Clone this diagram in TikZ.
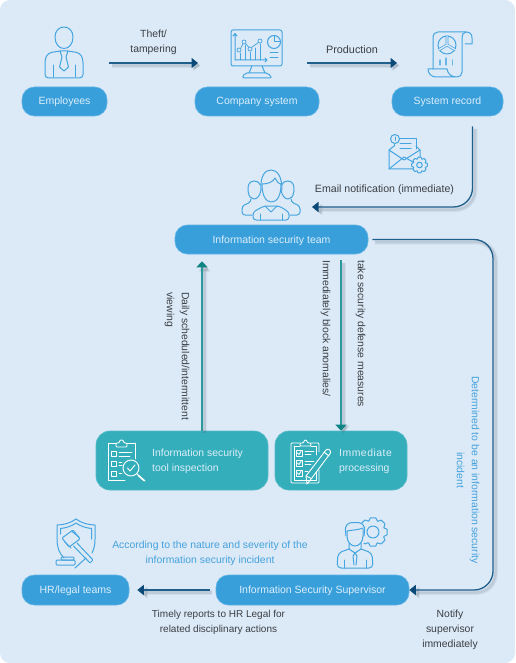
\documentclass[tikz,border=0pt]{standalone}
\usepackage{fontspec}
\setmainfont{Liberation Sans}
\usetikzlibrary{arrows.meta,calc}
\definecolor{bgc}{HTML}{DCE9F6}
\definecolor{pillc}{HTML}{389FDB}
\definecolor{pilledge}{HTML}{5DB2E4}
\definecolor{tealc}{HTML}{35AEBB}
\definecolor{tealedge}{HTML}{55BCC7}
\definecolor{pilltxt}{HTML}{DCEEFA}
\definecolor{darktxt}{HTML}{3A3F45}
\definecolor{bluetxt}{HTML}{45A2DD}
\definecolor{iconc}{HTML}{45A5E0}
\definecolor{navyline}{HTML}{1E5F8C}
\definecolor{navytip}{HTML}{0B4A78}
\definecolor{tealline}{HTML}{2A9A9F}
\definecolor{tealtip}{HTML}{0E8585}
\definecolor{shadowc}{HTML}{3A4A5A}
\newcommand{\mygear}[4]{% cx cy rin rout
  \draw[rounded corners=.5pt] ({#1+#3*cos(-21)},{#2+#3*sin(-21)}) \foreach \a in {0,45,...,315}{
    -- ({#1+#4*cos(\a-11)},{#2+#4*sin(\a-11)}) -- ({#1+#4*cos(\a+11)},{#2+#4*sin(\a+11)}) --
    ({#1+#3*cos(\a+24)},{#2+#3*sin(\a+24)}) } -- cycle;
}
\tikzset{
  pill/.style={draw=pilledge,line width=.6pt,fill=pillc,rounded corners=12.5pt,minimum height=29pt,inner sep=0pt,text=pilltxt,text height=7pt,text depth=-.5pt,font=\fontsize{10.5}{12}\selectfont},
  tealbox/.style={draw=tealedge,line width=.6pt,fill=tealc,rounded corners=14pt,minimum height=59pt,inner sep=0pt},
  hit/.style={inner sep=0pt,minimum size=0pt,outer sep=0pt},
  lbl/.style={inner sep=0pt,text=darktxt,align=center,font=\fontsize{10.4}{15}\selectfont},
  blbl/.style={lbl,text=bluetxt},
  tlbl/.style={inner sep=0pt,text=pilltxt,align=left,anchor=west,font=\fontsize{10.4}{15}\selectfont},
  shdw/.style={
    preaction={draw=shadowc,opacity=.07,line width=5pt,transform canvas={shift={(2.5pt,-2.5pt)}},-{Triangle[length=8pt,width=11pt]}},
    preaction={draw=shadowc,opacity=.12,line width=2.5pt,transform canvas={shift={(2.5pt,-2.5pt)}},-{Triangle[length=7pt,width=10pt]}}},
  arr/.style={shdw,draw=navyline,line width=1.3pt,-{Triangle[length=6.5pt,width=10pt,color=navytip]}},
  tarr/.style={shdw,draw=tealline,line width=1.5pt,-{Triangle[length=6pt,width=11pt,color=tealtip]}},
  ic/.style={draw=iconc,line width=1pt,line join=round,line cap=round},
  wic/.style={draw=white,line width=.9pt,line join=round,line cap=round},
}
\begin{document}
\begin{tikzpicture}[x=1pt,y=-1pt]
\useasboundingbox (0,0) rectangle (515,663);
\fill[white] (0,0) rectangle (515,663);
\fill[bgc,rounded corners=10pt] (0,0) rectangle (515,663);

% pills
\node[pill,minimum width=85pt] (emp) at (64.5,101.5) {Employees};
\node[pill,minimum width=124pt] (comp) at (257,101.5) {Company system};
\node[pill,minimum width=111pt] (rec) at (447.5,101.5) {System record};
\node[pill,minimum width=193pt] (team) at (271.5,239.5) {Information security team};
\node[pill,minimum width=193pt,minimum height=30pt] (sup) at (312.5,590) {Information Security Supervisor};
\node[pill,minimum width=107pt,minimum height=30pt] (hr) at (75.5,590) {HR/legal teams};
\node[tealbox,minimum width=172pt] (tool) at (182,460.5) {};
\node[tealbox,minimum width=132pt] (imm) at (341,460.5) {};

% invisible connection points at the icons
\node[hit] (empicon) at (109,63) {};
\node[hit] (compiconw) at (198,63) {};
\node[hit] (compicone) at (307,63) {};
\node[hit] (recicon) at (397,63) {};
\node[hit] (teamicon) at (312,207) {};
\coordinate (bendA) at (493,239.5);
\coordinate (bendB) at (493,590);

% connectors
\draw[arr] (empicon) -- (compiconw);
\draw[arr] (compicone) -- (recicon);
\draw[arr,rounded corners=19pt] ([xshift=25pt,yshift=-10pt]rec.south) |- (teamicon);
\draw[arr,rounded corners=19pt] ([xshift=4pt]team.east) -- (bendA) -- (bendB) -- (sup.east);
\draw[arr] ([xshift=-6pt]sup.west) -- ([xshift=8pt]hr.east);
\draw[tarr] ([xshift=20pt]tool.north) -- ([xshift=20pt,yshift=-7pt]tool.north |- team.south);
\draw[tarr] ([yshift=-6pt]imm.north |- team.south) -- (imm.north);

% labels
\node[lbl] (l1) at (153.5,42.5) {Theft/\\tampering};
\node[lbl,font=\fontsize{10.8}{15}\selectfont] (l2) at (352,50) {Production};
\node[lbl,font=\fontsize{10.6}{15}\selectfont] (l3) at (384.5,190) {Email notification (immediate)};
\node[lbl,rotate=270,anchor=north west,align=left] (l4) at (189.5,292) {Daily scheduled/intermittent\\viewing};
\node[lbl,rotate=270,anchor=north west,align=left] (l5) at (330.5,260) {Immediately block anomalies/};
\node[lbl,rotate=270,anchor=north west,align=left] (l6) at (365.5,260) {take security defense measures};
\node[blbl,rotate=270] (l7) at (468,470) {Determined to be an information security\\incident};
\node[blbl] (l8) at (210,553.5) {According to the nature and severity of the\\information security incident};
\node[lbl,font=\fontsize{10}{15}\selectfont] (l9) at (218.5,622.5) {Timely reports to HR Legal for\\related disciplinary actions};
\node[lbl] (l10) at (450,630) {Notify\\supervisor\\immediately};
\node[tlbl] (l11) at (152,461.5) {Information security\\tool inspection};
\node[tlbl] (l12) at (339,461.5) {\addfontfeature{LetterSpace=5}Immediate\\\addfontfeature{LetterSpace=0}processing};

% employee icon
\begin{scope}[ic]
\draw (55,37) .. controls (55,31) and (59,27) .. (64,27) .. controls (69,27) and (73,31) .. (73,37) .. controls (73,44) and (69,48.5) .. (64,48.5) .. controls (59,48.5) and (55,44) .. (55,37) -- cycle;
\draw[rounded corners=3.5pt] (60,51) -- (48,53) -- (45,59) -- (45,78) -- (83,78) -- (83,59) -- (80,53) -- (68,51);
\draw (60,51) -- (68,51) -- (66,57) -- (68.5,67) -- (64,71) -- (59.5,67) -- (62,57) -- cycle;
\draw (53,65) -- (53,77) (75,65) -- (75,77);
\end{scope}

% company icon
\begin{scope}[ic]
\draw[rounded corners=2pt] (231,30) rectangle (282,66);
\draw (252,66) -- (249,73) (262,66) -- (265,73);
\draw[rounded corners=2pt] (245,73) -- (268,73) -- (272,78) -- (242,78) -- cycle;
\draw (235,60) -- (235,34) (233,36) -- (235,33.5) -- (237,36);
\draw (235,60) -- (267,60) (265,58) -- (267,60) -- (265,62);
\foreach \x/\t in {240/53,245/45,250/52,255/48,260/44}{\draw[line width=.7pt] (\x,\t) -- (\x,60);}
\foreach \x/\y in {239/50,244/42,250/49,260/41}{\draw[fill=bgc,line width=.7pt] (\x,\y) circle[radius=2];}
\draw[line width=.7pt] (240.5,48.5) -- (243,44) (245.5,43.5) -- (249,47.5) (251.5,47.5) -- (258.5,42.5);
\draw (274,42) circle[radius=6.5];
\draw (274,36) -- (274,42) -- (280,42);
\draw (270,53) -- (278,53) (270,58) -- (278,58);
\end{scope}

% record icon
\begin{scope}[ic]
\draw (433,69) -- (433,38) .. controls (433,34) and (435,32) .. (438,32) -- (466,32) .. controls (470,32) and (472,34) .. (472,38) -- (472,44) -- (465,44);
\draw (466,32) .. controls (463,32) and (462,35) .. (462,38) -- (462,72) .. controls (462,75) and (460,77) .. (457,77) -- (436,77) .. controls (431,77) and (428,73) .. (428,69) -- (447,69) .. controls (448,74) and (451,77) .. (457,77);
\draw (447,45) circle[radius=9];
\draw[double=bgc,double distance=1.4pt,line width=.7pt,line cap=butt] (447,45) -- (447,35.5) (447,45) -- (455.5,50) (447,45) -- (438.5,50);
\draw[line width=1.1pt,draw=iconc!80] (440,60) -- (440,65) (446,58) -- (446,65) (452.5,60) -- (452.5,65);
\end{scope}

% email icon
\begin{scope}[ic]
\draw (394,146) -- (394,138.5) (399,138.5) -- (416,138.5) -- (416,149);
\draw (394,146) -- (389,150) -- (389,169) -- (413,169);
\draw (416,146) -- (420,150) -- (420,157);
\draw (389,150) -- (404,160) -- (420,150);
\draw (389,169) -- (404,157) -- (413,162);
\draw[fill=bgc] (395,139) circle[radius=4.5];
\draw (395,137) -- (395,140.5);
\draw (400,144) -- (411,144) (400,149) -- (411,149);
\draw[fill=bgc,line width=0pt,draw=bgc] (420,165) circle[radius=7];
\mygear{419.5}{165}{6}{8}
\draw (419.5,165) circle[radius=2.8];
\end{scope}

% team icon
\begin{scope}[ic]
\draw (254,181) .. controls (249,181) and (247.5,186) .. (248,191) .. controls (249,197) and (251,199) .. (254,199) .. controls (257,199) and (260,196) .. (261,190);
\draw (288,181) .. controls (293,181) and (294.5,186) .. (294,191) .. controls (293,197) and (291,199) .. (288,199) .. controls (285,199) and (282,196) .. (281,190);
\draw (254,181) .. controls (257,181) and (259,182) .. (260.5,185);
\draw (288,181) .. controls (285,181) and (283,182) .. (281.5,185);
\draw[rounded corners=3pt] (251,199) -- (251,202) -- (242,206) -- (242,215) -- (252,215);
\draw[rounded corners=3pt] (291,199) -- (291,202) -- (300,206) -- (300,215) -- (290,215);
\draw (261,190) .. controls (260,176) and (265,170) .. (271,170) .. controls (277,170) and (282,176) .. (282,190);
\draw (262,184) .. controls (268,184) and (273,182) .. (275,178) .. controls (276,181) and (279,184) .. (281,184);
\draw (262,184) .. controls (262,196) and (266,202) .. (271.5,202) .. controls (277,202) and (281,196) .. (281,184);
\draw[rounded corners=3pt] (253,220) -- (253,212) -- (264,206) -- (279,206) -- (289,212) -- (289,220) -- cycle;
\draw (265,206) -- (271,212) -- (277,206) (271,212) -- (268,209);
\draw (260,214) -- (260,220) (282,214) -- (282,220);
\end{scope}

% tool inspection icon
\begin{scope}[wic]
\draw (116,443) -- (108,443) -- (108,480) -- (125,480) (135,443) -- (135,459) (127,443) -- (135,443);
\draw[rounded corners=1pt] (116,447) -- (116,443) -- (119,443) -- (120,440) -- (123,440) -- (124,443) -- (127,443) -- (127,447) -- cycle;
\draw (111,451) rectangle (116,456) (111,461) rectangle (116,466) (111,471) rectangle (116,476);
\draw (119,452) -- (132,452) (119,456) -- (130,456) (119,462) -- (122,462) (119,465) -- (122,465) (119,473) -- (122,473);
\draw (131,468) circle[radius=8];
\draw (127.5,468) -- (130,471) -- (135,465);
\draw (137,474) -- (145,481);
\draw[line width=1.6pt] (138.5,475.5) -- (144,480.5);
\end{scope}

% immediate processing icon
\begin{scope}[wic]
\draw[rounded corners=1pt] (300,443) -- (291,443) -- (291,483) -- (319,483) -- (319,470) (319,452) -- (319,443) -- (311,443);
\draw (294,446) -- (294,480) -- (316,480) -- (316,472) (316,455) -- (316,446) -- (311,446) (300,446) -- (294,446);
\draw[rounded corners=1pt] (300,446) -- (300,443) -- (303.5,443) -- (304.5,440) -- (306.5,440) -- (307.5,443) -- (311,443) -- (311,446) -- cycle;
\foreach \y in {453,463,473}{
  \draw (296,\y-3) rectangle (302,\y+3);
  \draw (297.5,\y) -- (299,\y+1.5) -- (301,\y-1.5);
}
\draw (305,451) -- (314,451) (305,454.5) -- (311,454.5) (305,461) -- (314,461) (305,464.5) -- (311,464.5) (305,471) -- (308,471);
\draw (307,484) -- (306,476) -- (326,450) .. controls (328,448) and (331,450) .. (330.5,453) -- (311.5,478.5) -- cycle;
\draw (306,476) -- (311.5,478.5) (324,452) -- (329,456);
\end{scope}

% legal icon
\begin{scope}[ic]
\draw (76,519) .. controls (71,523) and (63,525) .. (57,525) -- (57,539) .. controls (57,547) and (59,553) .. (64,558);
\draw (76,519) .. controls (81,523) and (89,525) .. (95,525) -- (95,539) .. controls (95,545) and (94,549) .. (92,553);
\draw (60.5,534) -- (60.5,528.5) .. controls (66,528) and (72,526) .. (76,523) .. controls (80,526) and (86,528) .. (91.5,528.5) -- (91.5,539);
\draw[rounded corners=1pt] (62,538) -- (73,530) -- (80,539) -- (69,547) -- cycle;
\draw (64.5,541.5) -- (71,548) (72,531.5) -- (79,537);
\draw[rounded corners=1pt] (77,543) -- (93,560) -- (90,563) -- (73.5,546);
\draw[rounded corners=1pt] (61,557) -- (74,557) -- (74,560) -- (61,560) -- cycle;
\draw[rounded corners=1pt] (56,560) -- (75,560) -- (75,565) -- (56,565) -- cycle;
\draw (75,568) -- (86,558);
\end{scope}

% supervisor icon
\begin{scope}[ic]
\mygear{373}{532}{11.5}{14.5}
\draw[fill=bgc,draw=bgc] (355,534) circle[radius=12];
\draw (373,532) circle[radius=6];
\draw[rounded corners=3pt] (346,536) -- (345,527) -- (349,522.5) -- (361,522.5) -- (365,527) -- (364,536);
\draw (347,531) .. controls (352,530) and (358,530) .. (363,528);
\draw (347,531) -- (347,536) .. controls (347,542) and (351,546) .. (355,546) .. controls (359,546) and (363,542) .. (363,536) -- (363,529);
\draw (349,543) -- (349,549) -- (355,553) -- (361,549) -- (361,543);
\draw[rounded corners=4pt] (349,549) -- (338,553) -- (337,568) -- (373,568) -- (372,553) -- (361,549);
\draw (355,553) -- (353,556) -- (354,565) (355,553) -- (357,556) -- (356,565);
\draw (344,560) -- (344,568) (366,560) -- (366,568);
\end{scope}
\end{tikzpicture}
\end{document}
